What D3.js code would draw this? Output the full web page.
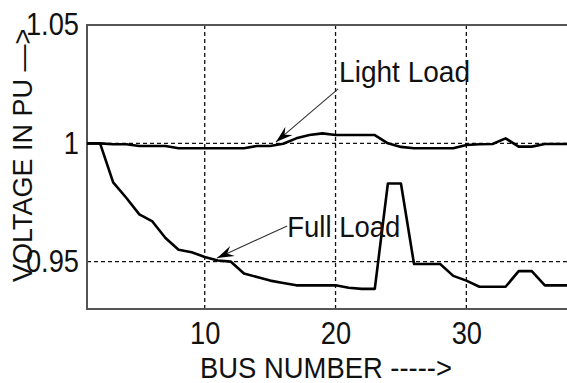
<!DOCTYPE html>
<html>
<head>
<meta charset="utf-8">
<script src="https://cdn.jsdelivr.net/npm/d3@7"></script>
<style>
  html, body { margin: 0; padding: 0; background: #fff; }
  svg { display: block; }
  text { font-family: "Liberation Sans", Arial, sans-serif; fill: #111; }
</style>
</head>
<body>
<div id="chart"></div>
<script>
// Bus voltage profile data
const buses = [1, 2, 3, 4, 5, 6, 7, 8, 9, 10,
               11, 12, 13, 14, 15, 16, 17, 18, 19, 20,
               21, 22, 23, 24, 25, 26, 27, 28, 29, 30,
               31, 32, 33, 34, 35, 36, 37, 38];

const fullLoad = [1.000, 1.000, 0.9835, 0.977, 0.970, 0.967, 0.960, 0.955, 0.954, 0.952,
                  0.9505, 0.950, 0.945, 0.9435, 0.942, 0.941, 0.940, 0.940, 0.940, 0.940,
                  0.939, 0.9385, 0.9385, 0.983, 0.983, 0.949, 0.949, 0.949, 0.944, 0.942,
                  0.9394, 0.9394, 0.9394, 0.946, 0.946, 0.940, 0.940, 0.940];

const lightLoad = [1.000, 1.000, 0.9996, 0.9996, 0.9989, 0.9989, 0.9989, 0.9979, 0.9979, 0.9979,
                   0.9979, 0.9979, 0.9979, 0.9989, 0.9989, 0.9998, 1.0021, 1.0035, 1.0042, 1.0035,
                   1.0035, 1.0035, 1.0035, 1.0000, 0.9985, 0.9979, 0.9979, 0.9979, 0.9979, 0.9993,
                   0.9996, 0.9997, 1.0021, 0.9986, 0.9986, 0.9997, 0.9997, 0.9997];

const xTicks = [10, 20, 30];
const yTicks = [0.95, 1, 1.05];
const yTickLabels = ["0.95", "1", "1.05"];

// annotations: [label, text bus, text volt, arrow start bus, arrow start volt, tip bus, tip volt, text length]
const annotations = [
    ["Light Load", 20.27, 1.0259, 20.2, 1.023, 15.45, 1.0006, 131],
    ["Full Load", 16.31, 0.9603, 16.3, 0.9651, 10.94, 0.9515, 113]
];

const width = 567, height = 383;

const svg = d3.select("#chart")
    .append("svg")
    .attr("width", width)
    .attr("height", height);

const x = d3.scaleLinear().domain([1, 38]).range([87, 571]);
const y = d3.scaleLinear().domain([0.93, 1.05]).range([309, 25]);

// clip for plot area
svg.append("clipPath").attr("id", "plot-clip")
    .append("rect")
    .attr("x", x(1)).attr("y", y(1.05))
    .attr("width", x(38) - x(1)).attr("height", y(0.93) - y(1.05));

// dotted grid
svg.selectAll(".grid-x")
    .data(xTicks)
    .join("line")
    .attr("class", "grid-x")
    .attr("x1", d => x(d)).attr("x2", d => x(d))
    .attr("y1", y(1.05)).attr("y2", y(0.93))
    .attr("stroke", "#111")
    .attr("stroke-width", 1.3)
    .attr("stroke-dasharray", "4,3");

svg.selectAll(".grid-y")
    .data(yTicks.filter(d => d < 1.05))
    .join("line")
    .attr("class", "grid-y")
    .attr("x1", x(1)).attr("x2", x(38))
    .attr("y1", d => y(d)).attr("y2", d => y(d))
    .attr("stroke", "#111")
    .attr("stroke-width", 1.3)
    .attr("stroke-dasharray", "4,3");

// frame (right side falls outside the picture)
svg.append("path")
    .attr("d", `M${x(38)},${y(1.05)} H${x(1)} V${y(0.93)} H${x(38)}`)
    .attr("fill", "none")
    .attr("stroke", "#555")
    .attr("stroke-width", 2);

// curves
const line = d3.line()
    .x((d, i) => x(buses[i]))
    .y(d => y(d));

svg.append("g").attr("clip-path", "url(#plot-clip)")
    .selectAll(".curve")
    .data([lightLoad, fullLoad])
    .join("path")
    .attr("class", "curve")
    .attr("d", line)
    .attr("fill", "none")
    .attr("stroke", "#000")
    .attr("stroke-width", 2.6)
    .attr("stroke-linejoin", "round");

// axes
const xAxis = svg.append("g")
    .attr("transform", `translate(0,${y(0.93)})`)
    .call(d3.axisBottom(x).tickValues(xTicks).tickSize(0).tickPadding(12.5));

const yAxis = svg.append("g")
    .attr("transform", `translate(${x(1)},0)`)
    .call(d3.axisLeft(y).tickValues(yTicks).tickSize(0).tickPadding(7)
        .tickFormat((d, i) => yTickLabels[i]));

[xAxis, yAxis].forEach(g => {
    g.select(".domain").remove();
    g.selectAll("text")
        .attr("font-size", 31)
        .attr("font-family", "Liberation Sans, Arial, sans-serif")
        .attr("fill", "#111")
        .attr("transform", "scale(0.88,1)");
});
yAxis.selectAll("text").attr("x", -8 / 0.88);

// axis titles
svg.append("text")
    .attr("x", 200)
    .attr("y", 378)
    .attr("font-size", 30)
    .attr("textLength", 252)
    .attr("lengthAdjust", "spacingAndGlyphs")
    .text("BUS NUMBER ----->");

svg.append("text")
    .attr("transform", "translate(32,282) rotate(-90)")
    .attr("font-size", 27)
    .text("VOLTAGE IN PU \u2014>");

// annotations with arrows
annotations.forEach(([label, tx, ty, sx, sy, ex, ey, len]) => {
    const x0 = x(sx), y0 = y(sy), x1 = x(ex), y1 = y(ey);
    svg.append("line")
        .attr("x1", x0).attr("y1", y0)
        .attr("x2", x1).attr("y2", y1)
        .attr("stroke", "#333")
        .attr("stroke-width", 1.1);

    const ang = Math.atan2(y1 - y0, x1 - x0);
    const L = 17, W = 5.5;
    const bx = x1 - L * Math.cos(ang), by = y1 - L * Math.sin(ang);
    const head = [
        [x1, y1],
        [bx + W * Math.sin(ang), by - W * Math.cos(ang)],
        [bx + 0.35 * L * Math.cos(ang), by + 0.35 * L * Math.sin(ang)],
        [bx - W * Math.sin(ang), by + W * Math.cos(ang)]
    ];
    svg.append("polygon")
        .attr("points", head.map(p => p.join(",")).join(" "))
        .attr("fill", "#000");

    svg.append("text")
        .attr("x", x(tx))
        .attr("y", y(ty))
        .attr("font-size", 30)
        .attr("textLength", len)
        .attr("lengthAdjust", "spacingAndGlyphs")
        .text(label);
});
</script>
</body>
</html>
